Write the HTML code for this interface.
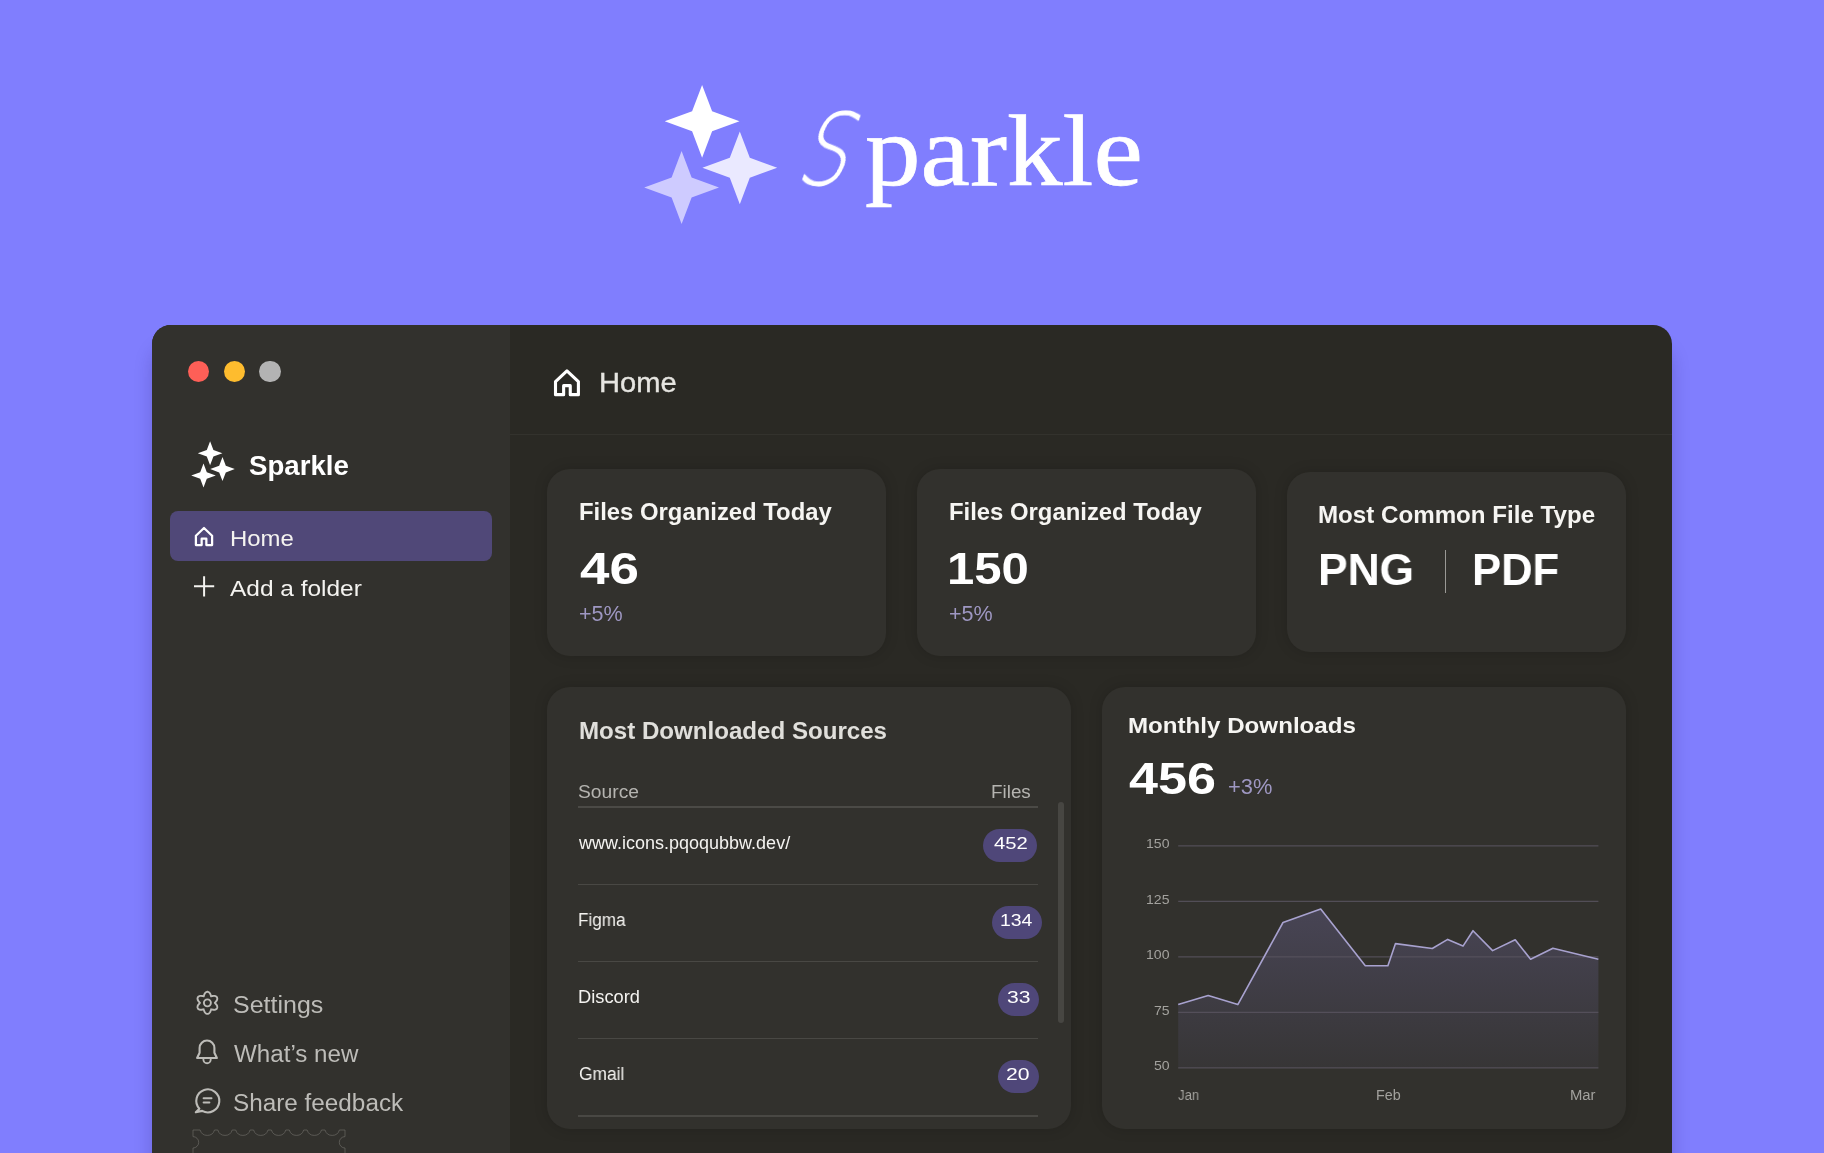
<!DOCTYPE html>
<html lang="en">
<head>
<meta charset="utf-8">
<title>Sparkle</title>
<style>
html,body{margin:0;padding:0}
body{width:1824px;height:1153px;overflow:hidden;position:relative;background:#807EFE;font-family:"Liberation Sans",sans-serif}
/* every box and label is pinned to page-pixel coordinates; wrappers are static and only group things */
.t{position:absolute;display:block;white-space:pre;line-height:1;font-weight:400;transform-origin:0 0;will-change:transform}
.abs,.card,.pill,.hl,.dot,svg{position:absolute}
svg{overflow:visible}
#win{position:absolute;left:152px;top:325px;width:1520px;height:900px;border-radius:19px;background:#2A2924;box-shadow:0 22px 18px rgba(30,20,90,.22);overflow:hidden}
#side{position:absolute;left:0;top:0;width:358px;height:900px;background:#32312D}
#bar{position:absolute;left:358px;top:109px;width:1163px;height:1px;background:#33322D}
.dot{top:360.7px;width:21.6px;height:21.6px;border-radius:50%}
.active{left:170px;top:510.8px;width:322px;height:50px;border-radius:8px;background:#504878}
.card{background:#32312D;border-radius:23px;box-shadow:0 0 14px rgba(0,0,0,.16)}
.pill{background:#4F4779;border-radius:17px;height:33px}
.hl{left:578px;width:460px;height:1.6px;background:#494844}
.serif{font-family:"Liberation Serif",serif}
.script{font-family:"DejaVu Sans Light","DejaVu Sans",sans-serif;font-weight:200}
</style>
</head>
<body>
<header id="hero">
<svg class="stars" style="left:640px;top:80px" width="142" height="148" viewBox="640 80 142 148"><polygon fill="#CECBFF" points="681.6,151.1 691.6,177.5 719.0,187.5 691.6,197.5 681.6,223.9 671.6,197.5 644.2,187.5 671.6,177.5"/><polygon fill="#EAE9FF" points="739.8,131.4 749.8,157.8 777.2,167.8 749.8,177.8 739.8,204.2 729.8,177.8 702.4,167.8 729.8,157.8"/><polygon fill="#FFFFFF" points="702.1,84.9 712.1,111.3 739.5,121.3 712.1,131.3 702.1,157.7 692.1,131.3 664.7,121.3 692.1,111.3"/></svg>
<div class="logo"><span class="t script" style="left:788px;top:102.4px;font-size:98px;color:#fff;-webkit-text-stroke:.85px #fff;transform:skewX(-20deg) scaleX(.8);transform-origin:0 100%">S</span><span class="t serif" style="left:865.4px;top:100.5px;font-size:101.5px;color:#fff;-webkit-text-stroke:.7px #fff;transform:scaleX(1.0954)">parkle</span></div>
</header>
<div id="win"><div id="side"></div><div id="bar"></div></div>
<aside id="sidebar">
<div class="traffic">
<i class="dot" style="left:187.7px;background:#FE5F57"></i>
<i class="dot" style="left:223.5px;background:#FEBC2E"></i>
<i class="dot" style="left:259.2px;background:#B3B3B3"></i>
</div>
<div class="brand">
<svg class="ico" style="left:190px;top:440px" width="46" height="50" viewBox="190 440 46 50"><polygon fill="#fff" points="210.1,441.3 213.4,450.0 222.4,453.3 213.4,456.6 210.1,465.3 206.8,456.6 197.8,453.3 206.8,450.0"/><polygon fill="#fff" points="222.5,457.1 225.8,465.8 234.8,469.1 225.8,472.4 222.5,481.1 219.2,472.4 210.2,469.1 219.2,465.8"/><polygon fill="#fff" points="203.5,463.5 206.8,472.2 215.8,475.5 206.8,478.8 203.5,487.5 200.2,478.8 191.2,475.5 200.2,472.2"/></svg>
<span class="t" style="left:249.37px;top:452px;font-size:27.5px;font-weight:700;color:#FFFFFF;transform:scaleX(1.0049);">Sparkle</span>
</div>
<nav class="primary">
<div class="item current"><div class="abs active"></div>
<svg class="ico" style="left:192px;top:524px" width="24" height="24" viewBox="192 524 24 24"><path d="M195.90,545.10V535.70L204.00,528.00L212.10,535.70V545.10H206.35V538.64H201.65V545.10Z" fill="none" stroke="#FFFFFF" stroke-width="2.25" stroke-linejoin="round"/></svg>
<span class="t" style="left:229.69px;top:527px;font-size:22.75px;color:#F4F3F0;transform:scaleX(1.0518);">Home</span>
</div>
<div class="item">
<svg class="ico" style="left:192px;top:574px" width="24" height="24" viewBox="192 574 24 24"><path d="M194,586.3H214.2M204.1,576.2V596.4" stroke="#F4F3F0" stroke-width="2" fill="none"/></svg>
<span class="t" style="left:230.28px;top:577px;font-size:22.75px;color:#F4F3F0;transform:scaleX(1.0748);">Add a folder</span>
</div>
</nav>
<nav class="secondary">
<div class="item">
<svg class="ico" style="left:194px;top:989px" width="27" height="27" viewBox="194 989 27 27"><path d="M214.8,1002.9L215.3,1002.3L215.9,1001.6L216.5,1000.9L217.0,1000.1L217.2,999.3L217.3,998.4L217.1,997.7L216.8,997.0L216.2,996.5L215.4,996.1L214.6,995.9L213.6,995.9L212.7,996.0L211.9,996.2L211.1,996.4L210.9,995.7L210.6,994.8L210.3,994.0L209.8,993.2L209.2,992.5L208.5,992.1L207.8,991.8L207.0,991.8L206.3,992.1L205.6,992.5L205.0,993.2L204.5,994.0L204.2,994.8L203.9,995.7L203.7,996.4L202.9,996.2L202.1,996.0L201.2,995.9L200.2,995.9L199.4,996.1L198.6,996.5L198.0,997.0L197.7,997.7L197.5,998.4L197.6,999.3L197.8,1000.1L198.3,1000.9L198.9,1001.6L199.5,1002.3L200.0,1002.9L199.5,1003.4L198.9,1004.1L198.3,1004.8L197.8,1005.6L197.6,1006.4L197.5,1007.3L197.7,1008.0L198.0,1008.7L198.6,1009.2L199.4,1009.6L200.2,1009.8L201.2,1009.8L202.1,1009.7L202.9,1009.5L203.7,1009.3L203.9,1010.0L204.2,1010.9L204.5,1011.7L205.0,1012.5L205.6,1013.2L206.3,1013.6L207.0,1013.9L207.8,1013.9L208.5,1013.6L209.2,1013.2L209.8,1012.5L210.3,1011.7L210.6,1010.9L210.9,1010.0L211.1,1009.3L211.9,1009.5L212.7,1009.7L213.6,1009.8L214.6,1009.8L215.4,1009.6L216.2,1009.2L216.8,1008.7L217.1,1008.0L217.3,1007.3L217.2,1006.4L217.0,1005.6L216.5,1004.8L215.9,1004.1L215.3,1003.4Z" fill="none" stroke="#BDBCB8" stroke-width="1.9" stroke-linejoin="round"/><circle cx="207.4" cy="1002.85" r="3.5" fill="none" stroke="#BDBCB8" stroke-width="1.9"/></svg>
<span class="t" style="left:232.57px;top:994px;font-size:23px;color:#BDBCB8;transform:scaleX(1.0873);">Settings</span>
</div>
<div class="item">
<svg class="ico" style="left:194px;top:1037px" width="27" height="29" viewBox="194 1037 27 29"><path d="M199.6,1052.8V1047.9a7.4,7.4 0 0 1 14.8,0V1052.8L216.9,1058H197.1Z" fill="none" stroke="#BDBCB8" stroke-width="2.1" stroke-linejoin="round"/><path d="M203.4,1059.4a3.65,3.9 0 0 0 7.3,0" fill="none" stroke="#BDBCB8" stroke-width="1.9" stroke-linecap="round"/></svg>
<span class="t" style="left:233.78px;top:1043px;font-size:23px;color:#BDBCB8;transform:scaleX(1.0502);">What’s new</span>
</div>
<div class="item">
<svg class="ico" style="left:193px;top:1086px" width="29" height="29" viewBox="193 1086 29 29"><path d="M199.4,1108.7A11.5,11.5 0 1 1 202.2,1110.9L195.8,1112.3Z" fill="none" stroke="#BDBCB8" stroke-width="2.1" stroke-linejoin="round"/><path d="M203.6,1098.3H211.5M203.6,1102.6H209.4" stroke="#BDBCB8" stroke-width="2" stroke-linecap="round" fill="none"/></svg>
<span class="t" style="left:232.61px;top:1092px;font-size:23px;color:#BDBCB8;transform:scaleX(1.0563);">Share feedback</span>
</div>
</nav>
<svg class="ticket" style="left:190px;top:1128px" width="158" height="25" viewBox="190 1128 158 25"><path d="M193,1156V1148A5.6,5.6 0 0 0 193,1136.6V1130H200.1A7.5,7.5 0 0 0 214.5,1130H217.8A7.5,7.5 0 0 0 232.2,1130H235.7A7.5,7.5 0 0 0 250.1,1130H253.6A7.5,7.5 0 0 0 268.0,1130H271.4A7.5,7.5 0 0 0 285.8,1130H289.3A7.5,7.5 0 0 0 303.7,1130H307.1A7.5,7.5 0 0 0 321.5,1130H325.0A7.5,7.5 0 0 0 339.4,1130H345V1136.6A5.6,5.6 0 0 0 345,1148V1156" fill="none" stroke="#73726D" stroke-width="0.6"/></svg>
</aside>
<main id="main">
<header class="topbar">
<svg class="ico" style="left:552px;top:366px" width="30" height="32" viewBox="552 366 30 32"><path d="M555.50,394.65V381.59L566.95,370.90L578.40,381.59V394.65H570.27V385.67H563.63V394.65Z" fill="none" stroke="#FFFFFF" stroke-width="3.1" stroke-linejoin="round"/></svg>
<span class="t" style="left:598.67px;top:369px;font-size:28px;color:#E6E5E1;transform:scaleX(1.0399);-webkit-text-stroke:.35px #E6E5E1;">Home</span>
</header>
<section class="stats">
<article class="stat">
<div class="card" style="left:547.3px;top:468.9px;width:338.7px;height:187px"></div>
<span class="t" style="left:578.95px;top:501px;font-size:23px;font-weight:700;color:#F6F5F2;transform:scaleX(1.0373);">Files Organized Today</span>
<span class="t" style="left:579.51px;top:546px;font-size:45.25px;font-weight:700;color:#FFFFFF;transform:scaleX(1.1696);">46</span>
<span class="t" style="left:578.92px;top:604px;font-size:21.5px;color:#9E97C2;transform:scaleX(1.0020);">+5%</span>
</article>
<article class="stat">
<div class="card" style="left:917.0px;top:468.9px;width:338.7px;height:187px"></div>
<span class="t" style="left:948.65px;top:501px;font-size:23px;font-weight:700;color:#F6F5F2;transform:scaleX(1.0373);">Files Organized Today</span>
<span class="t" style="left:947.06px;top:546px;font-size:45.25px;font-weight:700;color:#FFFFFF;transform:scaleX(1.0839);">150</span>
<span class="t" style="left:948.62px;top:604px;font-size:21.5px;color:#9E97C2;transform:scaleX(1.0020);">+5%</span>
</article>
<article class="stat">
<div class="card" style="left:1286.8px;top:472.2px;width:339.2px;height:180px"></div>
<span class="t" style="left:1317.73px;top:504px;font-size:23px;font-weight:700;color:#F6F5F2;transform:scaleX(1.0494);">Most Common File Type</span>
<span class="t" style="left:1318.42px;top:547px;font-size:45.25px;font-weight:700;color:#FFFFFF;transform:scaleX(0.9804);">PNG</span>
<div class="abs" style="left:1444.6px;top:549.8px;width:1.6px;height:43px;background:#9A9995"></div>
<span class="t" style="left:1472.37px;top:547px;font-size:45.25px;font-weight:700;color:#FFFFFF;transform:scaleX(0.9631);">PDF</span>
</article>
</section>
<section class="sources">
<div class="card" style="left:547.3px;top:687.4px;width:523.8px;height:441.6px"></div>
<span class="t" style="left:578.83px;top:720px;font-size:23.25px;font-weight:700;color:#E0DFDB;transform:scaleX(1.0367);">Most Downloaded Sources</span>
<div class="thead">
<span class="t" style="left:578.13px;top:783px;font-size:18px;color:#B5B4B0;transform:scaleX(1.0696);">Source</span>
<span class="t" style="left:991.49px;top:783px;font-size:18px;color:#B5B4B0;transform:scaleX(1.0471);">Files</span>
<div class="hl" style="top:806.3px;height:1.5px;background:#4B4A46"></div>
</div>
<div class="row">
<span class="t" style="left:579.00px;top:834px;font-size:18px;color:#F4F3F0;transform:scaleX(0.9998);">www.icons.pqoqubbw.dev/</span>
<div class="pill" style="left:983.1px;top:828.7px;width:53.8px"></div>
<span class="t" style="left:993.50px;top:835px;font-size:17.25px;color:#FFFFFF;transform:scaleX(1.1739);">452</span>
<div class="hl" style="top:883.5px"></div>
</div>
<div class="row">
<span class="t" style="left:578.43px;top:911px;font-size:18px;color:#F4F3F0;transform:scaleX(0.9506);">Figma</span>
<div class="pill" style="left:992.0px;top:905.8px;width:49.6px"></div>
<span class="t" style="left:999.94px;top:912px;font-size:17.25px;color:#FFFFFF;transform:scaleX(1.1261);">134</span>
<div class="hl" style="top:960.7px"></div>
</div>
<div class="row">
<span class="t" style="left:578.14px;top:988px;font-size:18px;color:#F4F3F0;transform:scaleX(1.0152);">Discord</span>
<div class="pill" style="left:997.5px;top:982.9px;width:41.6px"></div>
<span class="t" style="left:1006.56px;top:989px;font-size:17.25px;color:#FFFFFF;transform:scaleX(1.2213);">33</span>
<div class="hl" style="top:1037.8px"></div>
</div>
<div class="row">
<span class="t" style="left:578.73px;top:1065px;font-size:18px;color:#F4F3F0;transform:scaleX(0.9642);">Gmail</span>
<div class="pill" style="left:997.5px;top:1060.0px;width:41.6px"></div>
<span class="t" style="left:1006.34px;top:1066px;font-size:17.25px;color:#FFFFFF;transform:scaleX(1.2273);">20</span>
<div class="hl" style="top:1115.0px"></div>
</div>
<div class="abs" style="left:1057.8px;top:802.3px;width:6.3px;height:221px;border-radius:3.2px;background:#474642"></div>
</section>
<section class="downloads">
<div class="card" style="left:1102.1px;top:687.4px;width:523.9px;height:441.6px"></div>
<span class="t" style="left:1128.03px;top:714px;font-size:22.75px;font-weight:700;color:#F6F5F2;transform:scaleX(1.0608);">Monthly Downloads</span>
<span class="t" style="left:1128.92px;top:756px;font-size:45.25px;font-weight:700;color:#FFFFFF;transform:scaleX(1.1514);">456</span>
<span class="t" style="left:1227.71px;top:777px;font-size:21.5px;color:#9E97C2;transform:scaleX(1.0163);">+3%</span>
<svg class="chart" style="left:1140px;top:830px" width="470" height="250" viewBox="1140 830 470 250"><defs><linearGradient id="ag" x1="0" y1="905" x2="0" y2="1068" gradientUnits="userSpaceOnUse"><stop offset="0" stop-color="#8C82D2" stop-opacity=".245"/><stop offset="1" stop-color="#8C82D2" stop-opacity=".055"/></linearGradient></defs><polygon points="1178.2,1004.6 1208.2,995.5 1237.8,1004.6 1283.0,922.5 1320.7,909.0 1365.3,965.7 1387.9,965.7 1395.5,943.6 1432.3,948.5 1447.7,939.4 1463.0,946.1 1473.0,930.7 1492.6,950.6 1515.2,939.7 1530.6,959.3 1552.9,948.2 1598.4,959.3 1598.4,1067.9 1178.2,1067.9" fill="url(#ag)"/><path d="M1178.2,845.9H1598.4" stroke="#58545F" stroke-width="1.4" fill="none" opacity=".85"/><path d="M1178.2,901.4H1598.4" stroke="#58545F" stroke-width="1.4" fill="none" opacity=".85"/><path d="M1178.2,956.9H1598.4" stroke="#58545F" stroke-width="1.4" fill="none" opacity=".85"/><path d="M1178.2,1012.4H1598.4" stroke="#58545F" stroke-width="1.4" fill="none" opacity=".85"/><path d="M1178.2,1067.9H1598.4" stroke="#58545F" stroke-width="1.4" fill="none" opacity=".85"/><polyline points="1178.2,1004.6 1208.2,995.5 1237.8,1004.6 1283.0,922.5 1320.7,909.0 1365.3,965.7 1387.9,965.7 1395.5,943.6 1432.3,948.5 1447.7,939.4 1463.0,946.1 1473.0,930.7 1492.6,950.6 1515.2,939.7 1530.6,959.3 1552.9,948.2 1598.4,959.3" fill="none" stroke="#A8A2CF" stroke-width="1.6" stroke-linejoin="round"/></svg>
<span class="t" style="left:1146.07px;top:837px;font-size:13.5px;color:#A3A29E;transform:scaleX(1.0422);">150</span>
<span class="t" style="left:1146.14px;top:893px;font-size:13.5px;color:#A3A29E;transform:scaleX(1.0422);">125</span>
<span class="t" style="left:1146.07px;top:948px;font-size:13.5px;color:#A3A29E;transform:scaleX(1.0422);">100</span>
<span class="t" style="left:1153.95px;top:1004px;font-size:13.5px;color:#A3A29E;transform:scaleX(1.0422);">75</span>
<span class="t" style="left:1153.87px;top:1059px;font-size:13.5px;color:#A3A29E;transform:scaleX(1.0422);">50</span>
<span class="t" style="left:1178.20px;top:1088px;font-size:14.25px;color:#A3A29E;transform:scaleX(0.9235);">Jan</span>
<span class="t" style="left:1375.95px;top:1088px;font-size:14.25px;color:#A3A29E;transform:scaleX(1.0044);">Feb</span>
<span class="t" style="left:1570.41px;top:1088px;font-size:14.25px;color:#A3A29E;transform:scaleX(1.0408);">Mar</span>
</section>
</main>
</body>
</html>
